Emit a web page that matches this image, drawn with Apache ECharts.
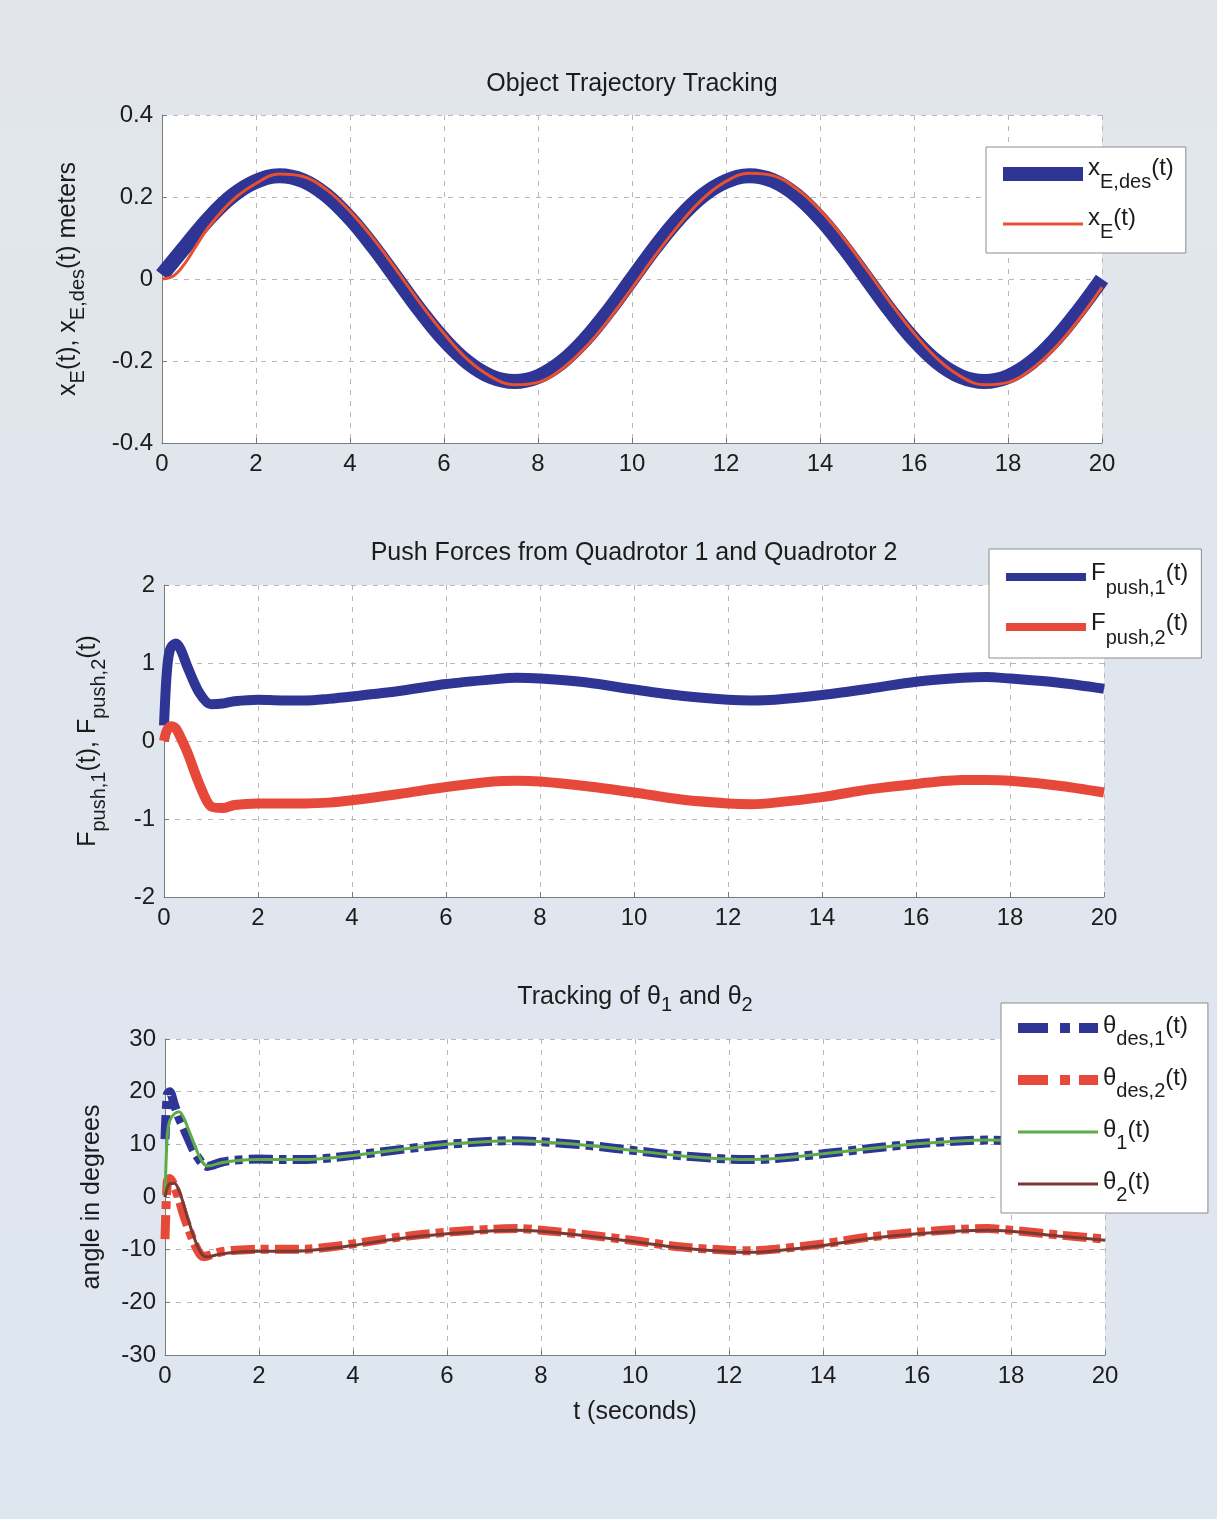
<!DOCTYPE html>
<html><head><meta charset="utf-8">
<script src="https://cdn.jsdelivr.net/npm/echarts@6/dist/echarts.min.js"></script>
<style>html,body{margin:0;padding:0;width:1217px;height:1519px;overflow:hidden;background:#dfe5ee}#c{width:1217px;height:1519px}</style>
</head><body><div id="c"></div><script>
// ---------- Plot 1: Object Trajectory Tracking ----------
const t1 = [0,0.5,1,1.5,2,2.5,3,3.5,4,4.5,5,5.5,6,6.5,7,7.5,8,8.5,9,9.5,10,10.5,11,11.5,12,12.5,13,13.5,14,14.5,15,15.5,16,16.5,17,17.5,18,18.5,19,19.5,20];
const xEdes = [0.01,0.08,0.148,0.203,0.238,0.252,0.240,0.204,0.148,0.078,0.0,-0.078,-0.148,-0.203,-0.238,-0.25,-0.238,-0.203,-0.148,-0.078,0.0,0.078,0.148,0.203,0.238,0.252,0.240,0.204,0.148,0.078,0.0,-0.078,-0.148,-0.203,-0.238,-0.25,-0.238,-0.203,-0.148,-0.078,0.0];
const t1r = [0,0.25,0.5,0.75,1,1.5,2,2.5,3,3.5,4,4.5,5,5.5,6,6.5,7,7.5,8,8.5,9,9.5,10,10.5,11,11.5,12,12.5,13,13.5,14,14.5,15,15.5,16,16.5,17,17.5,18,18.5,19,19.5,20];
const xE = [0,0.008,0.04,0.085,0.128,0.192,0.233,0.256,0.250,0.218,0.165,0.098,0.02,-0.06,-0.133,-0.196,-0.238,-0.258,-0.252,-0.22,-0.168,-0.1,-0.022,0.058,0.132,0.195,0.238,0.258,0.252,0.22,0.168,0.1,0.022,-0.058,-0.132,-0.195,-0.238,-0.258,-0.252,-0.22,-0.168,-0.1,-0.02];
const yTicks1 = [-0.4,-0.2,0,0.2,0.4];

// ---------- Plot 2: Push Forces ----------
const t2 = [0,0.05,0.1,0.15,0.25,0.35,0.5,0.75,1,1.25,1.5,2,2.5,3,3.5,4,5,6,7,7.5,8,9,10,11,12,12.5,13,14,15,16,17,17.5,18,19,20];
const Fpush1 = [0.2,0.8,1.1,1.2,1.25,1.18,0.95,0.62,0.47,0.48,0.51,0.53,0.52,0.52,0.54,0.57,0.64,0.73,0.79,0.81,0.80,0.75,0.66,0.58,0.53,0.52,0.53,0.59,0.67,0.76,0.81,0.82,0.80,0.75,0.67];
const Fpush2 = [0.0,0.12,0.17,0.19,0.16,0.05,-0.15,-0.55,-0.84,-0.86,-0.82,-0.80,-0.80,-0.80,-0.79,-0.76,-0.68,-0.59,-0.52,-0.51,-0.52,-0.58,-0.66,-0.75,-0.80,-0.81,-0.79,-0.72,-0.62,-0.55,-0.50,-0.50,-0.51,-0.57,-0.66];
const yTicks2 = [-2,-1,0,1,2];

// ---------- Plot 3: Tracking of theta ----------
const t3 = [0,0.05,0.1,0.2,0.3,0.4,0.5,0.6,0.7,0.8,0.9,1,1.2,1.5,2,2.5,3,3.5,4,5,6,7,7.5,8,9,10,11,12,12.5,13,14,15,16,17,17.5,18,19,20];
const thetaDes1 = [11,19.5,20,17.5,15,13,11,9,7.5,6.3,5.8,6.0,6.6,7.0,7.2,7.1,7.1,7.4,7.9,9.0,10.0,10.6,10.7,10.5,9.8,8.8,7.8,7.2,7.1,7.3,8.2,9.2,10.1,10.7,10.8,10.7,10.0,9.0];
const thetaDes2 = [-8,3.0,3.5,2.0,-0.5,-3.5,-6,-8.3,-10.2,-11.3,-11.2,-10.9,-10.4,-10.1,-9.9,-9.9,-9.9,-9.5,-8.9,-7.6,-6.7,-6.1,-6.0,-6.3,-7.2,-8.3,-9.5,-10.1,-10.2,-9.9,-8.9,-7.6,-6.7,-6.1,-6.0,-6.3,-7.2,-8.0];
const theta1 = [0,12,14.5,15.8,16.2,15,12.8,10.5,8.3,6.6,5.9,6.0,6.5,6.9,7.1,7.1,7.1,7.4,7.9,9.0,10.0,10.6,10.7,10.5,9.8,8.8,7.8,7.2,7.1,7.3,8.2,9.2,10.1,10.7,10.8,10.7,10.0,9.0];
const theta2 = [0,1.8,2.5,2.6,1.2,-1.5,-4.5,-7.2,-9.5,-11.0,-11.4,-11.2,-10.8,-10.5,-10.3,-10.3,-10.2,-9.8,-9.2,-7.9,-7.0,-6.4,-6.3,-6.5,-7.4,-8.5,-9.7,-10.4,-10.5,-10.2,-9.2,-7.9,-7.0,-6.4,-6.3,-6.5,-7.4,-8.2];
const yTicks3 = [-30,-20,-10,0,10,20,30];
const xTicks = [0,2,4,6,8,10,12,14,16,18,20];

// ---------- Texts ----------
const titles = ['Object Trajectory Tracking', 'Push Forces from Quadrotor 1 and Quadrotor 2', '{m|Tracking of θ}{s|1}{m| and θ}{s|2}'];
const legendText = {
  xEdes: ['x','E,des','(t)'], xE: ['x','E','(t)'],
  F1: ['F','push,1','(t)'], F2: ['F','push,2','(t)'],
  thd1: ['θ','des,1','(t)'], thd2: ['θ','des,2','(t)'], th1: ['θ','1','(t)'], th2: ['θ','2','(t)']
};
const yNames = ['{m|x}{s|E}{m|(t), x}{s|E,des}{m|(t) meters}', '{m|F}{s|push,1}{m|(t), F}{s|push,2}{m|(t)}', 'angle in degrees'];
const xName3 = 't (seconds)';

const FONT = '"Liberation Sans", Arial, Helvetica, sans-serif';
const TXT = '#1c1c1c';
const C = {blue:'#2f3594', red:'#e8502e', red2:'#e6493a', green:'#5dac45', brown:'#7a3a34'};

const pairs = (t, v) => t.map((x, i) => [x, v[i]]);
const rich = (F, Fs, b, a) => ({
  m: {fontSize: F, fontFamily: FONT, color: TXT, padding: [0,0,b,0]},
  s: {fontSize: Fs, fontFamily: FONT, color: TXT, padding: [a,0,0,0]}
});
const fmt = n => { const p = legendText[n]; return '{m|' + p[0] + '}{s|' + p[1] + '}{m|' + p[2] + '}'; };

const grids = [
  {left:162, top:115, width:940, height:328},
  {left:164, top:585, width:940, height:312},
  {left:165, top:1039, width:940, height:316}
];
const ticksArr = [yTicks1, yTicks2, yTicks3];

function xAxisOpt(i) {
  const o = {
    type:'value', gridIndex:i, min:xTicks[0], max:xTicks[xTicks.length-1], interval:xTicks[1]-xTicks[0],
    axisLine:{show:true, onZero:false, lineStyle:{color:'#7a7a7a', width:1}},
    axisTick:{show:true, inside:true, length:5, lineStyle:{color:'#7a7a7a'}},
    axisLabel:{fontSize:24, color:TXT, fontFamily:FONT, margin:9},
    splitLine:{show:true, lineStyle:{type:[5,6], color:'#b8b8b8', width:1}}
  };
  if (i === 2) {
    o.name = xName3; o.nameLocation = 'middle'; o.nameGap = 45;
    o.nameTextStyle = {fontSize:25, color:TXT, fontFamily:FONT};
  }
  return o;
}
function yAxisOpt(i) {
  const tk = ticksArr[i];
  const gaps = [74, 55, 60];
  const nameRich = [rich(25, 20, 0, 20), rich(25, 20, 0, 22), rich(25,20,0,0)];
  return {
    type:'value', gridIndex:i, min:tk[0], max:tk[tk.length-1], interval:tk[1]-tk[0],
    axisLine:{show:true, onZero:false, lineStyle:{color:'#7a7a7a', width:1}},
    axisTick:{show:true, inside:true, length:5, lineStyle:{color:'#7a7a7a'}},
    axisLabel:{fontSize:24, color:TXT, fontFamily:FONT, margin:9},
    splitLine:{show:true, lineStyle:{type:[5,6], color:'#b8b8b8', width:1}},
    name: yNames[i], nameLocation:'middle', nameRotate:90, nameGap: gaps[i],
    nameTextStyle:{fontSize:25, color:TXT, fontFamily:FONT, rich: nameRich[i]}
  };
}

const dashDot = [24, 6, 8, 6];
const thin = h => 'path://M0,0L0,0M0,' + ((h-3)/2) + 'h80v3h-80zM0,' + h + 'L0,' + h;
const ddIcon = 'path://M0,0h30v10h-30zM42,0h10v10h-10zM61,0h19v10h-19z';

function legendOpt(left, top, pad, gap, ih, data, r) {
  return {
    left:left, top:top, orient:'vertical', padding:pad, itemGap:gap, itemWidth:80, itemHeight:ih,
    backgroundColor:'#ffffff', borderColor:'#8c8c8c', borderWidth:1, borderRadius:0,
    selectedMode:false, itemStyle:{borderWidth:0}, data:data, formatter:fmt,
    textStyle:{fontSize:24, color:TXT, fontFamily:FONT, rich:r}
  };
}

const option = {
  animation:false,
  backgroundColor:{type:'linear', x:0, y:0, x2:0, y2:1, colorStops:[{offset:0, color:'#e2e6ec'},{offset:1, color:'#dee6f0'}]},
  title: titles.map((t, i) => ({
    text:t, left:[632,634,635][i], top:[84,553,997][i], textAlign:'center', textVerticalAlign:'middle', padding:0,
    textStyle:{fontSize:25, fontWeight:'normal', color:TXT, fontFamily:FONT, rich: rich(25, 20, 0, 16)}
  })),
  grid: grids.map(g => Object.assign({show:true, backgroundColor:'#ffffff', borderWidth:0}, g)),
  xAxis: [0,1,2].map(xAxisOpt),
  yAxis: [0,1,2].map(yAxisOpt),
  legend: [
    legendOpt(986, 147, [9,12,11,17], 14, 14, [{name:'xEdes', icon:'rect'}, {name:'xE', icon: thin(14)}], rich(24,20,12,16)),
    legendOpt(989, 549, [12,13,10,17], 13, 8, [{name:'F1', icon:'rect'}, {name:'F2', icon:'rect'}], rich(24,20,8,22)),
    legendOpt(1001, 1003, [11,20,8,17], 17, 10, [{name:'thd1', icon:ddIcon}, {name:'thd2', icon:ddIcon}, {name:'th1', icon:thin(10)}, {name:'th2', icon:thin(10)}], rich(24,20,4,22))
  ],
  series: [
    {name:'xEdes', type:'line', xAxisIndex:0, yAxisIndex:0, data:pairs(t1, xEdes), symbol:'none', smooth:0.4, color:C.blue, lineStyle:{width:15, color:C.blue}},
    {name:'xE', type:'line', xAxisIndex:0, yAxisIndex:0, data:pairs(t1r, xE), symbol:'none', smooth:0.4, color:C.red, lineStyle:{width:3, color:C.red}},
    {name:'F1', type:'line', xAxisIndex:1, yAxisIndex:1, data:pairs(t2, Fpush1), symbol:'none', smooth:0.3, color:C.blue, lineStyle:{width:10, color:C.blue}},
    {name:'F2', type:'line', xAxisIndex:1, yAxisIndex:1, data:pairs(t2, Fpush2), symbol:'none', smooth:0.3, color:C.red2, lineStyle:{width:10, color:C.red2}},
    {name:'thd1', type:'line', xAxisIndex:2, yAxisIndex:2, data:pairs(t3, thetaDes1), symbol:'none', smooth:0.3, color:C.blue, lineStyle:{width:9, color:C.blue, type:dashDot, cap:'butt'}},
    {name:'thd2', type:'line', xAxisIndex:2, yAxisIndex:2, data:pairs(t3, thetaDes2), symbol:'none', smooth:0.3, color:C.red2, lineStyle:{width:9, color:C.red2, type:dashDot, cap:'butt'}},
    {name:'th1', type:'line', xAxisIndex:2, yAxisIndex:2, data:pairs(t3, theta1), symbol:'none', smooth:0.3, color:C.green, lineStyle:{width:3, color:C.green}},
    {name:'th2', type:'line', xAxisIndex:2, yAxisIndex:2, data:pairs(t3, theta2), symbol:'none', smooth:0.3, color:C.brown, lineStyle:{width:3, color:C.brown}}
  ]
};
const chart = echarts.init(document.getElementById('c'), null, {renderer:'canvas'});
chart.setOption(option);
</script></body></html>
